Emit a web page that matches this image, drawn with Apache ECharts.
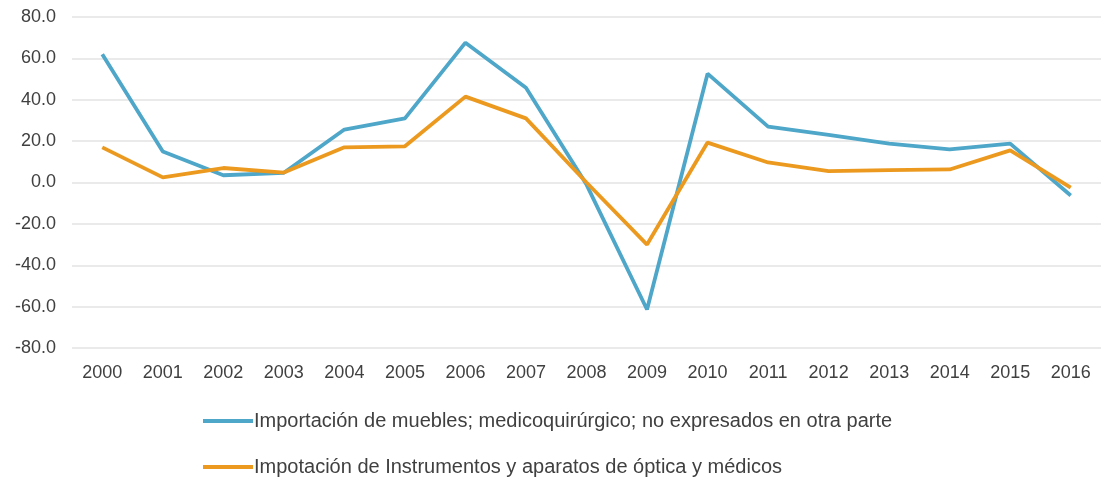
<!DOCTYPE html>
<html>
<head>
<meta charset="utf-8">
<script src="https://cdn.jsdelivr.net/npm/echarts@6/dist/echarts.min.js"></script>
<style>html,body{margin:0;padding:0;background:#fff}#c{width:1101px;height:479px}</style>
</head>
<body>
<div id="c"></div>
<script>
const years = ['2000','2001','2002','2003','2004','2005','2006','2007','2008','2009','2010','2011','2012','2013','2014','2015','2016'];
const muebles = [62.0, 15.0, 3.5, 4.7, 25.6, 31.0, 67.6, 45.8, -1.0, -61.4, 52.6, 27.0, 23.0, 18.8, 16.0, 18.8, -6.3];
const instrumentos = [17.0, 2.5, 7.0, 4.8, 17.0, 17.5, 41.5, 31.0, 0.0, -30.0, 19.3, 9.7, 5.5, 6.0, 6.3, 15.5, -2.5];
const seriesNames = ['Importación de muebles; medicoquirúrgico; no expresados en otra parte', 'Impotación de Instrumentos y aparatos de óptica y médicos'];

const chart = echarts.init(document.getElementById('c'));
chart.setOption({
  animation: false,
  grid: { left: 72, right: 0, top: 17, bottom: 131, containLabel: false },
  legend: {
    orient: 'vertical', left: 203, top: 411, height: 120, padding: 0, itemGap: 26,
    icon: 'rect', itemWidth: 50, itemHeight: 4,
    textStyle: { fontFamily: 'Liberation Sans, Arial, sans-serif', fontSize: 20, color: '#404040', padding: [0,0,0,-4] },
    data: seriesNames
  },
  xAxis: {
    type: 'category', data: years, boundaryGap: true,
    axisLine: { show: false }, axisTick: { show: false },
    axisLabel: { fontFamily: 'Liberation Sans, Arial, sans-serif', fontSize: 18, color: '#404040', margin: 16 }
  },
  yAxis: {
    type: 'value', min: -80, max: 80, interval: 20,
    axisLine: { show: false }, axisTick: { show: false },
    splitLine: { lineStyle: { color: '#e3e3e3', width: 1.5 } },
    axisLabel: { fontFamily: 'Liberation Sans, Arial, sans-serif', fontSize: 18, color: '#404040', margin: 16,
      formatter: v => v.toFixed(1) }
  },
  series: [
    { name: seriesNames[0], type: 'line', data: muebles, symbol: 'none', lineStyle: { color: '#4ea6c9', width: 3.8 }, itemStyle: { color: '#4ea6c9' } },
    { name: seriesNames[1], type: 'line', data: instrumentos, symbol: 'none', lineStyle: { color: '#eb9a1f', width: 3.8 }, itemStyle: { color: '#eb9a1f' } }
  ]
});
</script>
</body>
</html>
